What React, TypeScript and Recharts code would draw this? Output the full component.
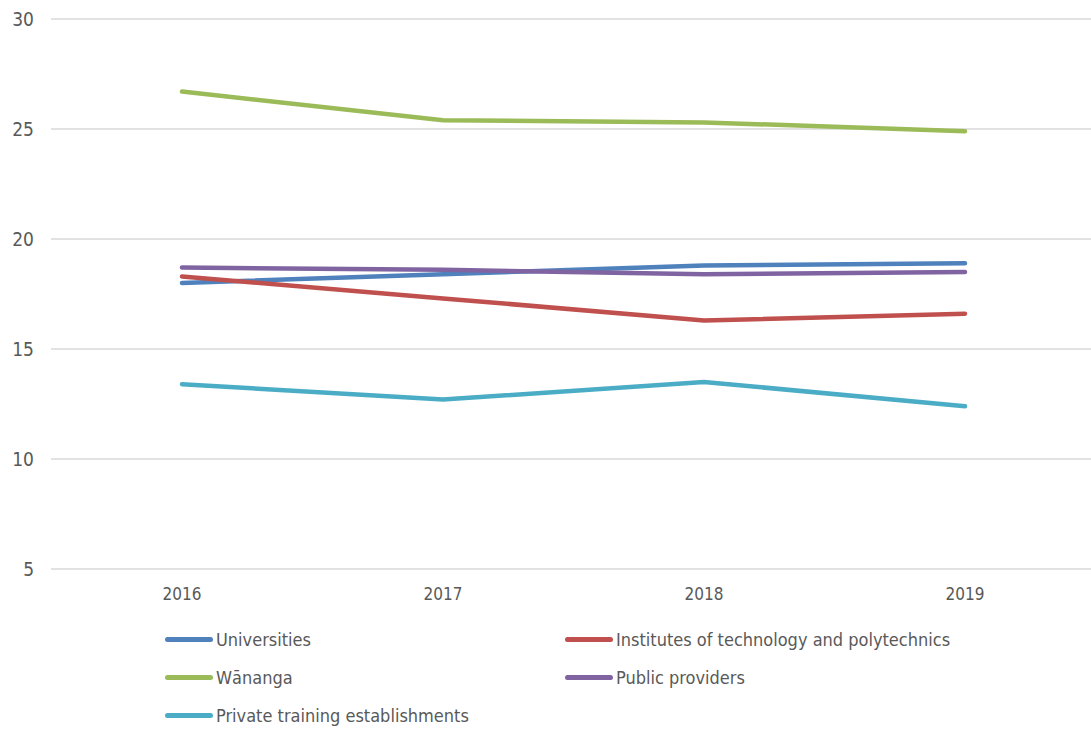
import React from 'react';
import { LineChart, Line, XAxis, YAxis, CartesianGrid } from 'recharts';

/* ── Data ─────────────────────────────────────────────────────────────────── */

const years = ['2016', '2017', '2018', '2019'];
const yTicks = [5, 10, 15, 20, 25, 30];

const universities = [18.0, 18.4, 18.8, 18.9];
const institutes = [18.3, 17.3, 16.3, 16.6];
const wananga = [26.7, 25.4, 25.3, 24.9];
const publicProviders = [18.7, 18.6, 18.4, 18.5];
const privateTraining = [13.4, 12.7, 13.5, 12.4];

const series = [
  { key: 'universities', name: 'Universities', values: universities, color: '#4F81BD' },
  { key: 'institutes', name: 'Institutes of technology and polytechnics', values: institutes, color: '#C0504D' },
  { key: 'wananga', name: 'Wānanga', values: wananga, color: '#9BBB59' },
  { key: 'publicProviders', name: 'Public providers', values: publicProviders, color: '#8064A2' },
  { key: 'privateTraining', name: 'Private training establishments', values: privateTraining, color: '#4BACC6' },
];

const data = years.map((year, i) => {
  const row: Record<string, string | number> = { year };
  series.forEach((s) => {
    row[s.key] = s.values[i];
  });
  return row;
});

const FONT = '"DejaVu Sans Condensed", "Liberation Sans Narrow", sans-serif';
const TEXT = '#595959';

/* ── Component ────────────────────────────────────────────────────────────── */

export default function App() {
  return (
    <div
      style={{
        position: 'absolute',
        top: 0,
        left: 0,
        width: 1091,
        height: 731,
        overflow: 'hidden',
        background: '#fff',
        fontFamily: FONT,
      }}
    >
      <LineChart width={1100} height={610} data={data} margin={{ top: 19, right: 4, bottom: 0, left: 0 }}>
        <CartesianGrid vertical={false} stroke="#d9d9d9" strokeWidth={1.5} />
        <XAxis
          dataKey="year"
          axisLine={false}
          tickLine={false}
          height={41}
          tickMargin={13}
          padding={{ left: 131, right: 131 }}
          tick={{ fill: TEXT, fontSize: 17, fontFamily: FONT }}
        />
        <YAxis
          domain={[5, 30]}
          ticks={yTicks}
          axisLine={false}
          tickLine={false}
          width={51}
          tickMargin={11}
          tick={{ fill: TEXT, fontSize: 19, fontFamily: FONT }}
        />
        {series.map((s) => (
          <Line
            key={s.key}
            dataKey={s.key}
            name={s.name}
            stroke={s.color}
            strokeWidth={4.5}
            strokeLinecap="round"
            dot={false}
            activeDot={false}
            isAnimationActive={false}
          />
        ))}
      </LineChart>

      {/* Legend */}
      <div
        style={{
          position: 'absolute',
          top: 627,
          left: 165,
          display: 'grid',
          gridTemplateColumns: '400px 400px',
          rowGap: 14,
          color: TEXT,
          fontSize: 18,
        }}
      >
        {series.map((s) => (
          <div key={s.key} style={{ display: 'flex', alignItems: 'center', height: 24 }}>
            <span
              style={{
                display: 'inline-block',
                width: 48,
                height: 5,
                borderRadius: 3,
                background: s.color,
                marginRight: 3,
              }}
            />
            <span>{s.name}</span>
          </div>
        ))}
      </div>
    </div>
  );
}
